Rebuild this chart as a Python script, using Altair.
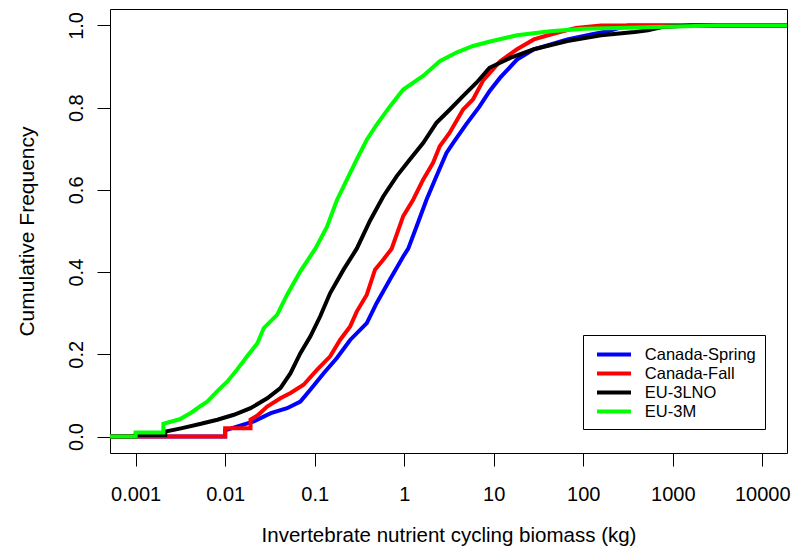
import altair as alt
import pandas as pd

series = ["Canada-Spring", "Canada-Fall", "EU-3LNO", "EU-3M"]
colors = ["#0000FF", "#FF0000", "#000000", "#00FF00"]

x_ticks = [0.001, 0.01, 0.1, 1, 10, 100, 1000, 10000]
y_ticks = [0.0, 0.2, 0.4, 0.6, 0.8, 1.0]

spring_x = [0.0005, 0.01, 0.01, 0.0117, 0.0209, 0.0324, 0.0492, 0.0692, 0.0893, 0.126,
            0.177, 0.249, 0.382, 0.493, 0.693, 0.975, 1.109, 1.374, 1.774, 2.29,
            2.965, 3.51, 4.94, 6.95, 8.97, 11.8, 18.2, 28.1, 43.3, 66.5,
            122, 188, 316, 20000]
spring_y = [0, 0, 0.015, 0.02, 0.037, 0.057, 0.069, 0.085, 0.114, 0.154,
            0.191, 0.235, 0.276, 0.325, 0.382, 0.438, 0.457, 0.511, 0.576, 0.633,
            0.69, 0.714, 0.76, 0.803, 0.84, 0.873, 0.917, 0.942, 0.954, 0.966,
            0.978, 0.986, 1.0, 1.0]

fall_x = [0.0005, 0.01, 0.01, 0.0192, 0.0192, 0.0229, 0.0295, 0.0414, 0.0537, 0.0752,
          0.106, 0.149, 0.192, 0.249, 0.295, 0.382, 0.472, 0.583, 0.724, 0.975,
          1.259, 1.626, 2.1, 2.495, 3.22, 4.53, 5.86, 7.66, 11.8, 18.2,
          28.1, 43.3, 82.8, 158, 20000]
fall_y = [0, 0, 0.02, 0.02, 0.041, 0.051, 0.073, 0.093, 0.106, 0.126,
          0.162, 0.195, 0.235, 0.268, 0.304, 0.345, 0.406, 0.43, 0.457, 0.536,
          0.576, 0.625, 0.666, 0.706, 0.739, 0.795, 0.82, 0.867, 0.913, 0.942,
          0.966, 0.978, 0.994, 1.0, 1.0]

lno_x = [0.0005, 0.001, 0.001, 0.00214, 0.00214, 0.00321, 0.00537, 0.00818, 0.01253, 0.0192,
         0.0295, 0.0414, 0.0537, 0.0692, 0.0893, 0.115, 0.149, 0.21, 0.295, 0.415,
         0.583, 0.822, 1.156, 1.626, 2.29, 3.22, 4.53, 6.38, 8.97, 15.3,
         28.1, 66.5, 158, 376, 527, 759, 1585, 20000]
lno_y = [0, 0, 0.004, 0.004, 0.012, 0.02, 0.031, 0.041, 0.053, 0.069,
         0.093, 0.118, 0.154, 0.203, 0.243, 0.292, 0.349, 0.406, 0.457, 0.525,
         0.584, 0.633, 0.674, 0.714, 0.763, 0.795, 0.828, 0.86, 0.897, 0.921,
         0.942, 0.962, 0.976, 0.984, 0.988, 0.996, 1.0, 1.0]

m3_x = [0.0005, 0.001, 0.001, 0.00204, 0.00204, 0.0031, 0.00417, 0.00537, 0.00631, 0.00813,
        0.0106, 0.0137, 0.0177, 0.0229, 0.027, 0.038, 0.0492, 0.0692, 0.1016, 0.137,
        0.177, 0.229, 0.295, 0.382, 0.493, 0.693, 0.975, 1.626, 2.495, 3.83,
        5.86, 9.1, 18.2, 42.7, 102, 245, 1380, 3160, 20000]
m3_y = [0, 0, 0.01, 0.01, 0.031, 0.042, 0.058, 0.075, 0.085, 0.11,
        0.134, 0.164, 0.196, 0.227, 0.264, 0.296, 0.345, 0.402, 0.457, 0.51,
        0.575, 0.625, 0.674, 0.722, 0.759, 0.803, 0.844, 0.877, 0.913, 0.934,
        0.95, 0.961, 0.976, 0.986, 0.992, 0.994, 0.998, 1.0, 1.0]

xs = [spring_x, fall_x, lno_x, m3_x]
ys = [spring_y, fall_y, lno_y, m3_y]

rows = []
for name, sx, sy in zip(series, xs, ys):
    for i, (a, b) in enumerate(zip(sx, sy)):
        rows.append({"series": name, "x": a, "y": b, "i": i})
df = pd.DataFrame(rows)

FONT = "Liberation Sans, Arial, sans-serif"

xscale = alt.Scale(type="log", domain=[0.000517, 18880], nice=False, zero=False)
yscale = alt.Scale(domain=[-0.04, 1.04], nice=False, zero=False)

base = alt.Chart(df).mark_line(strokeWidth=4, clip=True, strokeJoin="miter", strokeCap="butt").encode(
    x=alt.X("x:Q", scale=xscale,
            axis=alt.Axis(values=x_ticks, format="~g", title="Invertebrate nutrient cycling biomass (kg)",
                          grid=False, domain=False, tickSize=13, tickColor="black", tickWidth=1,
                          labelFont=FONT, labelFontSize=20, labelColor="black",
                          labelBaseline="alphabetic", labelPadding=34, labelFlush=False,
                          labelOverlap=False, labelBound=False,
                          titleFont=FONT, titleFontSize=20.5, titleFontWeight="normal", titleColor="black",
                          titleX=338.5, titleY=88, titleAlign="center", titleBaseline="alphabetic")),
    y=alt.Y("y:Q", scale=yscale,
            axis=alt.Axis(values=y_ticks, format=".1f", title="Cumulative Frequency",
                          grid=False, domain=False, tickSize=13, tickColor="black", tickWidth=1,
                          labelFont=FONT, labelFontSize=20, labelColor="black",
                          labelAngle=270, labelAlign="center", labelBaseline="alphabetic",
                          labelPadding=15, labelFlush=False, labelOverlap=False, labelBound=False,
                          titleFont=FONT, titleFontSize=21, titleFontWeight="normal", titleColor="black",
                          titleAngle=270, titleX=-76.7, titleY=222, titleAlign="center",
                          titleBaseline="alphabetic")),
    color=alt.Color("series:N", scale=alt.Scale(domain=series, range=colors),
                    legend=alt.Legend(title=None, orient="none", legendX=473, legendY=326,
                                      symbolType="M-2,0H2", symbolSize=289, symbolStrokeWidth=4,
                                      symbolOffset=11.5, labelOffset=20.3, padding=9, rowPadding=-0.5,
                                      strokeColor="black", fillColor="white",
                                      labelFont=FONT, labelFontSize=16.5, labelColor="black")),
    order=alt.Order("i:Q"),
)

layers = [base.transform_filter(alt.datum.series == s) for s in series]

chart = alt.layer(*layers).properties(
    width=677, height=444,
    autosize=alt.AutoSizeParams(type="none"),
    padding={"left": 110, "top": 9, "right": 6, "bottom": 104},
    background="white",
).configure_view(stroke="black", strokeWidth=1)

chart.save("out.html", embed_options={"renderer": "svg", "actions": False})
